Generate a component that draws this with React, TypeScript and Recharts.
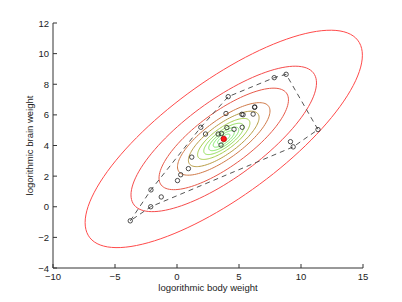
import { Label, Scatter, ScatterChart, XAxis, YAxis } from "recharts";

// log body / log brain weights
const bodyWeight = [
  -3.77, -2.1, -2.12, -1.27, 0.04, 0.3, 0.92, 1.19, 1.92, 2.3, 3.32, 3.55, 3.59,
  4.02, 4.6, 5.26, 3.95, 4.13, 5.23, 5.33, 6.14, 6.26, 6.27, 7.84, 8.8, 11.37,
  9.15, 9.37,
];
const brainWeight = [
  -0.92, 1.1, 0.0, 0.64, 1.71, 2.09, 2.49, 3.24, 5.19, 4.75, 4.75, 4.03, 4.78,
  5.17, 5.06, 5.19, 6.09, 7.19, 6.04, 6.01, 6.05, 6.49, 6.52, 8.43, 8.65, 5.04,
  4.25, 3.91,
];
// convex hull, as indices into the points above
const hullIdx = [0, 1, 8, 17, 23, 24, 25, 27, 2, 0];

const meanPoint = { x: 3.77, y: 4.43 };

// contour ellipses: half-width along x for each level, outer to inner
const levelHalfWidths = [11.18, 7.48, 5.22, 3.73, 2.85, 2.11, 1.61, 1.21, 0.85, 0.5];
const levelColors = [
  "#ff4a4a",
  "#f64c4c",
  "#e85a4a",
  "#d07a48",
  "#b89c44",
  "#a6cc4a",
  "#90de56",
  "#82e65e",
  "#7aea64",
  "#72ee6a",
];
const ellipseRatio = 0.635; // y half-height / x half-width
const ellipseCorr = 0.77;

const xTicks = [-10, -5, 0, 5, 10, 15];
const yTicks = [-4, -2, 0, 2, 4, 6, 8, 10, 12];

const FONT = '"Liberation Sans", Arial, Helvetica, sans-serif';
const AXIS = "#333";

const points = bodyWeight.map((x, i) => ({ x, y: brainWeight[i] }));
const hull = hullIdx.map((i) => points[i]);

function ellipse(a: number) {
  const b = a * ellipseRatio;
  const s = Math.sqrt(1 - ellipseCorr * ellipseCorr);
  const out: { x: number; y: number }[] = [];
  for (let k = 0; k <= 120; k++) {
    const t = (k / 120) * Math.PI * 2;
    out.push({
      x: meanPoint.x + a * Math.cos(t),
      y: meanPoint.y + b * (ellipseCorr * Math.cos(t) + s * Math.sin(t)),
    });
  }
  return out;
}

const fmt = (v: number) => (v < 0 ? "\u2212" + Math.abs(v) : String(v));

const XTick = (p: any) => (
  <g>
    <line x1={p.x} y1={p.y} x2={p.x} y2={p.y - 4} stroke={AXIS} />
    <text x={p.x} y={p.y + 11.5} textAnchor="middle" fontSize={9.5} fontFamily={FONT} fill="#222">
      {fmt(p.payload.value)}
    </text>
  </g>
);

const YTick = (p: any) => (
  <g>
    <line x1={p.x} y1={p.y} x2={p.x + 4} y2={p.y} stroke={AXIS} />
    <text x={p.x - 4} y={p.y + 3.5} textAnchor="end" fontSize={9.5} fontFamily={FONT} fill="#222">
      {fmt(p.payload.value)}
    </text>
  </g>
);

const NoDot = () => <g />;

const OpenCircle = (p: any) => (
  <circle cx={p.cx} cy={p.cy} r={2.2} fill="none" stroke="#222" strokeWidth={0.8} />
);

const RedDot = (p: any) => (
  <circle cx={p.cx} cy={p.cy} r={2.7} fill="#ff1a1a" stroke="#b00" strokeWidth={0.8} />
);

export default function App() {
  return (
    <div style={{ position: "absolute", left: 0, top: 0, background: "#fff" }}>
      <ScatterChart
        width={402}
        height={302}
        margin={{ top: 23, right: 39, left: 13, bottom: 9 }}
      >
        <XAxis
          type="number"
          dataKey="x"
          domain={[-10, 15]}
          ticks={xTicks}
          allowDataOverflow
          height={25}
          tickSize={0}
          tickMargin={0}
          tickLine={false}
          tick={<XTick />}
          axisLine={{ stroke: AXIS }}
        >
          <Label
            value="logorithmic body weight"
            position="center"
            dy={7}
            fontSize={9.5}
            fontFamily={FONT}
            fill="#222"
          />
        </XAxis>
        <YAxis
          type="number"
          dataKey="y"
          domain={[-4, 12]}
          ticks={yTicks}
          allowDataOverflow
          width={40}
          tickSize={0}
          tickMargin={0}
          tickLine={false}
          tick={<YTick />}
          axisLine={{ stroke: AXIS }}
        >
          <Label
            value="logorithmic brain weight"
            position="center"
            angle={-90}
            dx={-3}
            fontSize={9.5}
            fontFamily={FONT}
            fill="#222"
          />
        </YAxis>
        {levelHalfWidths.map((a, i) => (
          <Scatter
            key={"lvl" + i}
            data={ellipse(a)}
            line={{ stroke: levelColors[i], strokeWidth: 1 }}
            shape={NoDot}
            isAnimationActive={false}
          />
        ))}
        <Scatter
          data={hull}
          line={{ stroke: "#555", strokeWidth: 1, strokeDasharray: "5 4" }}
          shape={NoDot}
          isAnimationActive={false}
        />
        <Scatter data={points} shape={OpenCircle} isAnimationActive={false} />
        <Scatter data={[meanPoint]} shape={RedDot} isAnimationActive={false} />
      </ScatterChart>
    </div>
  );
}
